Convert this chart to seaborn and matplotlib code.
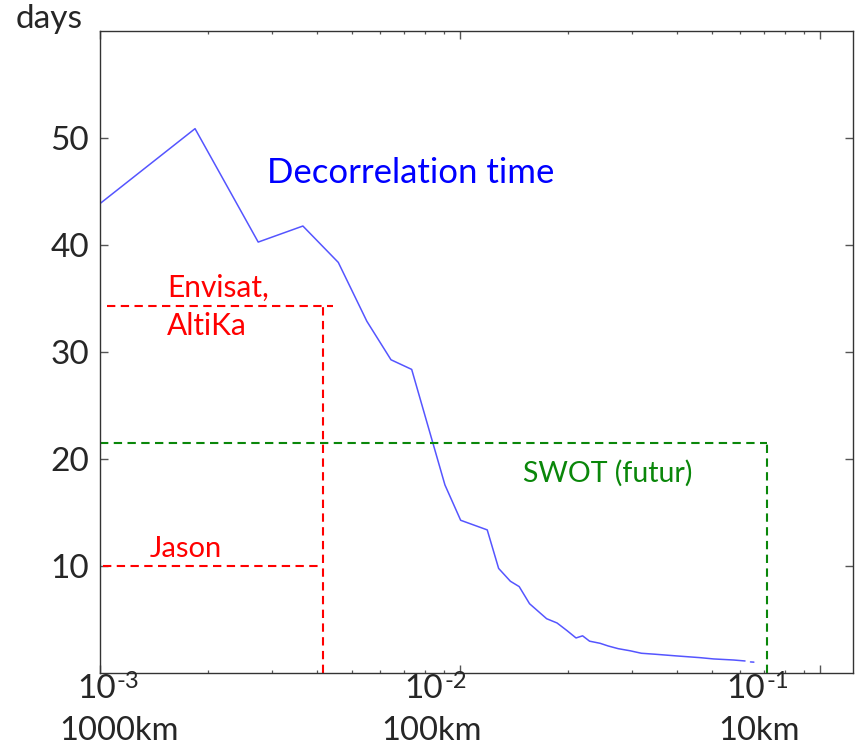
import numpy as np
import pandas as pd
import matplotlib
matplotlib.use('Agg')
import matplotlib.pyplot as plt
import seaborn as sns

# decorrelation time curve (wavenumber in cycles/km, days)
wavenum = [1.0e-3, 1.836e-3, 2.75e-3, 3.66e-3, 4.59e-3, 5.51e-3, 6.43e-3, 7.34e-3,
           9.08e-3, 1.004e-2, 1.19e-2, 1.28e-2, 1.38e-2, 1.46e-2, 1.56e-2, 1.74e-2,
           1.86e-2, 1.98e-2, 2.10e-2, 2.19e-2, 2.29e-2, 2.45e-2, 2.58e-2, 2.75e-2,
           2.97e-2, 3.19e-2, 3.48e-2, 4.0e-2, 4.64e-2, 5.06e-2, 5.75e-2, 6.19e-2]
decor_days = [43.9, 50.9, 40.3, 41.8, 38.4, 32.9, 29.3, 28.4,
              17.6, 14.3, 13.4, 9.8, 8.6, 8.1, 6.5, 5.1,
              4.7, 4.0, 3.3, 3.5, 3.0, 2.8, 2.55, 2.3,
              2.1, 1.87, 1.78, 1.62, 1.46, 1.34, 1.24, 1.15]
tail_wavenum = [6.41e-2, 6.55e-2]
tail_days = [1.06, 1.04]

# altimeter missions: (resolution wavenumber, revisit days)
envisat_k = 4.15e-3
envisat_end = 4.44e-3
envisat_start = 1.045e-3
envisat_days = 34.35
jason_start = 1.02e-3
jason_days = 10.0
swot_k = 7.11e-2
swot_days = 21.5

xmin, xmax = 1e-3, 0.1235
ymin, ymax = 0, 60
yticks = [10, 20, 30, 40, 50]

sns.set_style('ticks')
plt.rcParams['font.family'] = ['Lato', 'DejaVu Sans']

fig = plt.figure(figsize=(8.58, 7.47), dpi=100)
ax = fig.add_axes([0.1166, 0.0987, 0.8776, 0.8594])

df = pd.DataFrame({'k': wavenum, 'days': decor_days})
sns.lineplot(data=df, x='k', y='days', ax=ax, color='#5555ff', lw=1.1,
             sort=False, estimator=None)
sns.lineplot(x=tail_wavenum, y=tail_days, ax=ax, color='#5555ff', lw=1.1,
             sort=False, estimator=None)

dash = dict(lw=1.5, dashes=(4, 2.6))
red = '#ff0000'
green = '#0a870a'
# Envisat / AltiKa
ax.plot([envisat_start, envisat_end], [envisat_days, envisat_days], color=red, **dash)
ax.plot([envisat_k, envisat_k], [ymin, envisat_days], color=red, **dash)
# Jason
ax.plot([jason_start, envisat_k], [jason_days, jason_days], color=red, **dash)
# SWOT
ax.plot([xmin, swot_k], [swot_days, swot_days], color=green, **dash)
ax.plot([swot_k, swot_k], [ymin, swot_days], color=green, **dash)

ax.set_xscale('log')
ax.set_xlim(xmin, xmax)
ax.set_ylim(ymin, ymax)
ax.set_yticks(yticks)
ax.set_yticklabels([str(v) for v in yticks], fontsize=24)
ax.set_xticklabels([], minor=False)
ax.set_xticklabels([], minor=True)
ax.set_xlabel('')
ax.set_ylabel('')
ax.tick_params(which='both', direction='in', top=True, right=True, color='#555555')
ax.tick_params(which='major', length=6, width=1.0, pad=8)
ax.tick_params(which='minor', length=2.5, width=0.9)
for s in ax.spines.values():
    s.set_color('#333333')
    s.set_linewidth(1.0)

# annotations inside the plot
ax.text(7.3e-3, 45.8, 'Decorrelation time', color='#0000ff', fontsize=25,
        ha='center', va='baseline')
ax.text(1.535e-3, 35.2, 'Envisat,', color=red, fontsize=21.5, ha='left', va='baseline')
ax.text(1.535e-3, 31.6, 'AltiKa', color=red, fontsize=21.5, ha='left', va='baseline')
ax.text(1.377e-3, 10.9, 'Jason', color=red, fontsize=21, ha='left', va='baseline')
ax.text(1.493e-2, 17.9, 'SWOT (futur)', color=green, fontsize=20.5, ha='left', va='baseline')

# axis texts (positions in figure pixels)
W, H = 858, 747
fig.text(49.5 / W, 1 - 28 / H, 'days', fontsize=24, ha='center', va='baseline')
for px, exp in [(116, '-3'), (443, '-2'), (765, '-1')]:
    fig.text(px / W, 1 - 698 / H, '10', fontsize=24, ha='right', va='baseline')
    fig.text((px + 1) / W, 1 - 688 / H, exp, fontsize=17, ha='left', va='baseline')
for px, lab in [(119, '1000km'), (431.5, '100km'), (759, '10km')]:
    fig.text(px / W, 1 - 740 / H, lab, fontsize=23.5, ha='center', va='baseline')

fig.savefig('out.png', dpi=100)
